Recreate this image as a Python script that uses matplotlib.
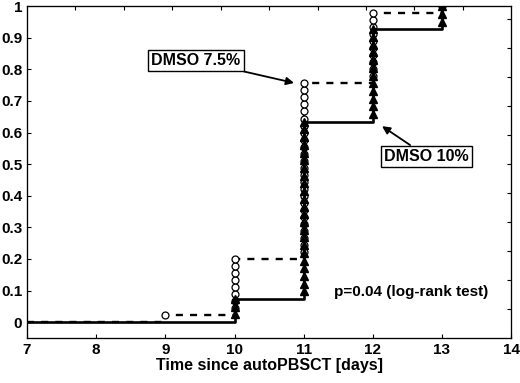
import numpy as np
from matplotlib import pyplot as plt

plt.rcParams['font.family'] = ['Liberation Sans', 'DejaVu Sans']
plt.rcParams['font.weight'] = 'bold'

# event days and number of events per day for each group
days = [9, 10, 11, 12, 13]
events_75 = [1, 8, 25, 10, 1]    # DMSO 7.5%, n = 45
events_10 = [0, 3, 23, 12, 3]    # DMSO 10%, n = 41
start_day = 7


def cum_curve(counts):
    n = sum(counts)
    xs, ys = [start_day], [0.0]
    mx, my = [], []
    total = 0
    for d, c in zip(days, counts):
        if c == 0:
            continue
        xs.append(d)
        ys.append(total / n)
        for k in range(1, c + 1):
            mx.append(d)
            my.append((total + k) / n)
        total += c
        xs.append(d)
        ys.append(total / n)
    return xs, ys, mx, my


fig = plt.figure(figsize=(5.2, 3.83), dpi=100)
ax = fig.add_axes([0.052, 0.1175, 0.931, 0.8665])

x1, y1, mx1, my1 = cum_curve(events_75)
x2, y2, mx2, my2 = cum_curve(events_10)

ax.plot(x1, y1, 'k--', lw=1.7, dashes=(3, 3), zorder=2)
ax.plot(mx1, my1, 'o', mfc='white', mec='black', ms=5, mew=0.9, zorder=3)
ax.plot(x2, y2, 'k-', lw=1.9, zorder=4)
ax.plot(mx2, my2, '^', color='black', ms=5.5, zorder=5)

ax.set_xlim(7, 14)
ax.set_ylim(-0.05, 1.0)
ax.set_xticks(range(7, 15))
ax.set_yticks(np.arange(0, 1.01, 0.1))
ax.set_yticklabels(['0', '0.1', '0.2', '0.3', '0.4', '0.5', '0.6', '0.7', '0.8', '0.9', '1'])
ax.tick_params(direction='in', length=3, labelsize=11, top=False, right=False)
for lab in ax.get_xticklabels() + ax.get_yticklabels():
    lab.set_fontweight('bold')
ax.set_xlabel('Time since autoPBSCT [days]', fontsize=11.5, fontweight='bold', labelpad=1)

# stray tick marks on top and right frame
axt = ax.twiny()
axt.set_xlim(0, 1)
axt.set_xticks(np.arange(0.1, 0.95, 0.1))
axt.tick_params(direction='in', length=3, labeltop=False)
axr = ax.twinx()
axr.set_ylim(0, 1.145)
axr.set_yticks(np.arange(0.1, 1.15, 0.1))
axr.tick_params(direction='in', length=3, labelright=False)

box = dict(boxstyle='square,pad=0.2', fc='white', ec='black', lw=1)
ax.annotate('DMSO 7.5%', xy=(10.9, 0.755), xytext=(9.44, 0.828),
            ha='center', va='center', fontsize=11.5, fontweight='bold', bbox=box,
            arrowprops=dict(arrowstyle='-|>', color='black', lw=1.3, shrinkA=0, shrinkB=2))
ax.annotate('DMSO 10%', xy=(12.1, 0.625), xytext=(12.78, 0.525),
            ha='center', va='center', fontsize=11.5, fontweight='bold', bbox=box,
            arrowprops=dict(arrowstyle='-|>', color='black', lw=1.3, shrinkA=0, shrinkB=2))
ax.text(12.55, 0.095, 'p=0.04 (log-rank test)', ha='center', va='center',
        fontsize=11, fontweight='bold')

plt.savefig('out.png', dpi=100)
